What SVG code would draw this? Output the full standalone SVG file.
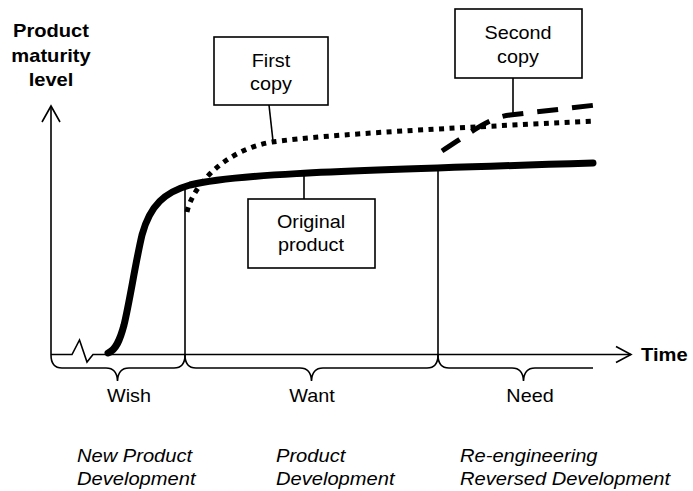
<svg xmlns="http://www.w3.org/2000/svg" width="693" height="491" viewBox="0 0 693 491">
<style>
text{font-family:"Liberation Sans",Arial,sans-serif;fill:#000}
.t{font-size:18px;text-anchor:middle}
.b{font-size:17.5px;font-weight:bold;text-anchor:middle}
.bl{font-size:17.5px;font-weight:bold}
.i{font-size:17.5px;font-style:italic}
.thin{fill:none;stroke:#000;stroke-width:1.6}
.box{fill:#fff;stroke:#000;stroke-width:1.6}
</style>
<rect width="693" height="491" fill="#fff"/>
<g id="axes">
<path class="thin" d="M51,355 L51,106"/>
<polyline class="thin" points="42,122 51,106 60,122"/>
<path class="thin" d="M51,354.5 L72,354.5 L79.5,340 L87,362 L93,354.5 L631,354.5"/>
<polyline class="thin" points="616,346.5 631,354.5 616,362.5"/>
<text class="b" transform="translate(51,37) scale(1.15,1)">Product</text>
<text class="b" transform="translate(51,62) scale(1.15,1)">maturity</text>
<text class="b" transform="translate(51,86) scale(1.15,1)">level</text>
<text class="bl" transform="translate(641,361) scale(1.15,1)">Time</text>
</g>
<g id="connectors">
<path class="thin" d="M185,186 L185,355"/>
<path class="thin" d="M438,167 L438,355"/>
<path class="thin" d="M269,105 L273,141"/>
<path class="thin" d="M513,78 L513,115"/>
<path class="thin" d="M304,173 L304,199"/>
</g>
<g id="curves">
<path fill="none" stroke="#000" stroke-width="7" stroke-linecap="round" d="M108,353 C116,350 120,340 124,325 C130,300 135,265 142,235 C150,205 165,192 190,185 C230,175 300,172 593,163"/>
<path fill="none" stroke="#000" stroke-width="5" stroke-dasharray="5 5.5" d="M187,212 C193,185 225,150 272,142 C330,134 450,128 596,121"/>
<path fill="none" stroke="#000" stroke-width="5" stroke-dasharray="21 14" d="M442,151 C470,133 490,117 510,115 L596,105"/>
</g>
<g id="braces">
<path class="thin" d="M51,355 Q51,368 62,368 L106,368 Q117,368 117.5,381 Q118,368 129,368 L174,368 Q185,368 185,355"/>
<path class="thin" d="M185,355 Q185,368 196,368 L300,368 Q311,368 311.5,381 Q312,368 323,368 L427,368 Q438,368 438,355"/>
<path class="thin" d="M438,355 Q438,368 449,368 L512,368 Q523,368 523.5,381 Q524,368 535,368 L593,368"/>
<text class="t" transform="translate(129,402) scale(1.1,1)">Wish</text>
<text class="t" transform="translate(312,402) scale(1.1,1)">Want</text>
<text class="t" transform="translate(530,402) scale(1.1,1)">Need</text>
</g>
<g id="first-copy">
<rect class="box" x="214" y="37" width="114" height="68"/>
<text class="t" transform="translate(271,67) scale(1.1,1)">First</text>
<text class="t" transform="translate(271,90) scale(1.1,1)">copy</text>
</g>
<g id="second-copy">
<rect class="box" x="455" y="9" width="127" height="69"/>
<text class="t" transform="translate(518,39) scale(1.1,1)">Second</text>
<text class="t" transform="translate(518,63) scale(1.1,1)">copy</text>
</g>
<g id="original-product">
<rect class="box" x="248" y="199" width="127" height="69"/>
<text class="t" transform="translate(311,228) scale(1.1,1)">Original</text>
<text class="t" transform="translate(311,251) scale(1.1,1)">product</text>
</g>
<g id="phases">
<text class="i" transform="translate(77,462) scale(1.15,1)">New Product</text>
<text class="i" transform="translate(77,485) scale(1.15,1)">Development</text>
<text class="i" transform="translate(276,462) scale(1.15,1)">Product</text>
<text class="i" transform="translate(276,485) scale(1.15,1)">Development</text>
<text class="i" transform="translate(460,462) scale(1.15,1)">Re-engineering</text>
<text class="i" transform="translate(460,485) scale(1.15,1)">Reversed Development</text>
</g>
</svg>
